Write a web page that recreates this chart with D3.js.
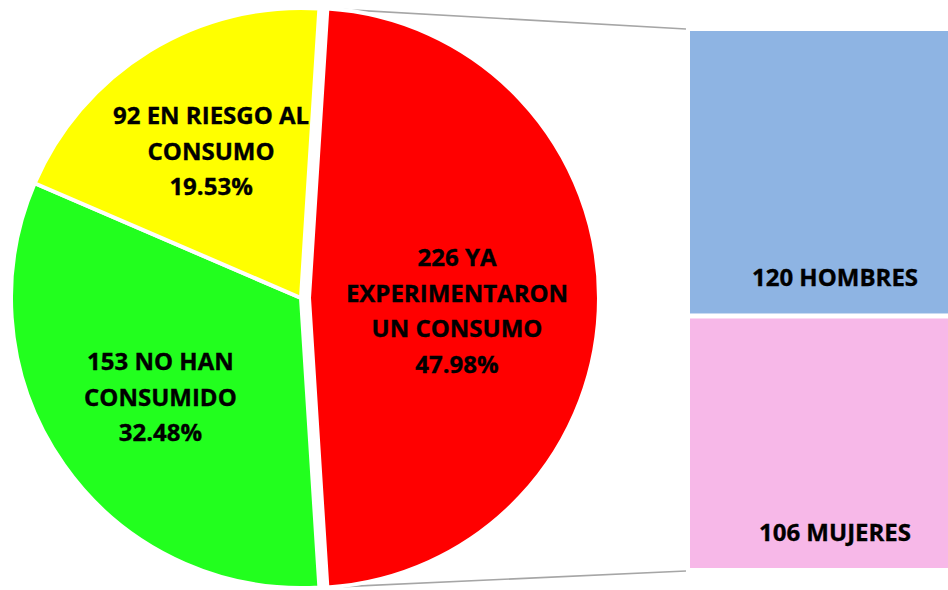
<!DOCTYPE html>
<html>
<head>
<meta charset="utf-8">
<script src="https://cdn.jsdelivr.net/npm/d3@7"></script>
<style>
  body{margin:0;background:#fff;}
  text{font-family:"Open Sans", Lato, sans-serif;font-weight:bold;fill:#000;stroke:#000;stroke-width:0.35px;}
</style>
</head>
<body>
<svg id="chart"></svg>
<script>
// pie data
var categories=["YA|EXPERIMENTARON|UN CONSUMO","NO HAN|CONSUMIDO","EN RIESGO AL|CONSUMO"];
var values=[226,153,92];
var pieColors=["#ff0000","#22ff1e","#ffff00"];
// bar (split of first slice)
var barCategories=["HOMBRES","MUJERES"];
var barValues=[120,106];
var barColors=["#8eb4e3","#f7b8e8"];

var w=948;
var h=590;
var cx=301,cy=298,r=290;
var fontSize=24;

var svg=d3.select("#chart")
          .attr("width",w)
          .attr("height",h);

var total=d3.sum(values);
var firstAngle=values[0]/total*2*Math.PI;
var pie=d3.pie()
          .sort(null)
          .value(function(d){return d;})
          .startAngle(Math.PI/2-firstAngle/2)
          .endAngle(Math.PI/2-firstAngle/2+2*Math.PI);
var arcs=pie(values);
var arc=d3.arc().innerRadius(0).outerRadius(r);

var explode=8;
function offset(d,i){
  if(i!==0) return [0,0];
  var a=(d.startAngle+d.endAngle)/2;
  return [explode*Math.sin(a),-explode*Math.cos(a)];
}

// bar
var barX=690,barW=260,barTop=31,gap=5;
var yScale=d3.scaleLinear()
             .domain([0,d3.sum(barValues)])
             .range([0,532]);
var bars=[];
var acc=barTop;
barValues.forEach(function(v,i){
  bars.push({name:barCategories[i],value:v,y:acc,h:yScale(v),color:barColors[i]});
  acc+=yScale(v)+gap;
});
var barBottom=acc-gap;

// connector lines
var s=arcs[0];
var o=offset(s,0);
var p1=[cx+o[0]+r*Math.sin(s.startAngle),cy+o[1]-r*Math.cos(s.startAngle)];
var p2=[cx+o[0]+r*Math.sin(s.endAngle),cy+o[1]-r*Math.cos(s.endAngle)];
svg.append("line")
   .attr("x1",p1[0]).attr("y1",p1[1])
   .attr("x2",barX-4).attr("y2",barTop-2)
   .attr("stroke","#a6a6a6").attr("stroke-width",1.6);
svg.append("line")
   .attr("x1",p2[0]).attr("y1",p2[1])
   .attr("x2",barX-4).attr("y2",barBottom+3)
   .attr("stroke","#a6a6a6").attr("stroke-width",1.6);

var g=svg.append("g")
         .attr("transform","translate("+cx+","+cy+")");
g.selectAll("path")
 .data(arcs)
 .enter()
 .append("path")
 .attr("d",arc)
 .attr("transform",function(d,i){var o=offset(d,i);return "translate("+o[0]+","+o[1]+")";})
 .attr("fill",function(d,i){return pieColors[i];})
 .attr("stroke","#fff")
 .attr("stroke-width",4)
 .attr("stroke-linejoin","round");

var lineH=35.5;
arcs.forEach(function(d,i){
  var o=offset(d,i);
  var lr=i===0?148:172;
  var a=(d.startAngle+d.endAngle)/2;
  var x=o[0]+lr*Math.sin(a);
  var y=o[1]-lr*Math.cos(a)+(i===0?13:0);
  var parts=categories[i].split("|");
  var lines=[values[i]+" "+parts[0]].concat(parts.slice(1));
  lines.push((values[i]/total*100).toFixed(2)+"%");
  var t=g.append("text")
         .attr("text-anchor","middle")
         .style("font-size",fontSize+"px");
  lines.forEach(function(l,j){
    t.append("tspan")
     .attr("x",x)
     .attr("y",y+(j-(lines.length-1)/2)*lineH+8.5)
     .text(l);
  });
});

svg.selectAll("rect.bar")
   .data(bars)
   .enter()
   .append("rect")
   .classed("bar",true)
   .attr("x",barX)
   .attr("y",function(d){return d.y;})
   .attr("width",barW)
   .attr("height",function(d){return d.h;})
   .attr("fill",function(d){return d.color;});

svg.selectAll("text.barlabel")
   .data(bars)
   .enter()
   .append("text")
   .classed("barlabel",true)
   .attr("x",835)
   .attr("y",function(d){return d.y+d.h-27;})
   .attr("text-anchor","middle")
   .style("font-size",fontSize+"px")
   .text(function(d){return d.value+" "+d.name;});
</script>
</body>
</html>
